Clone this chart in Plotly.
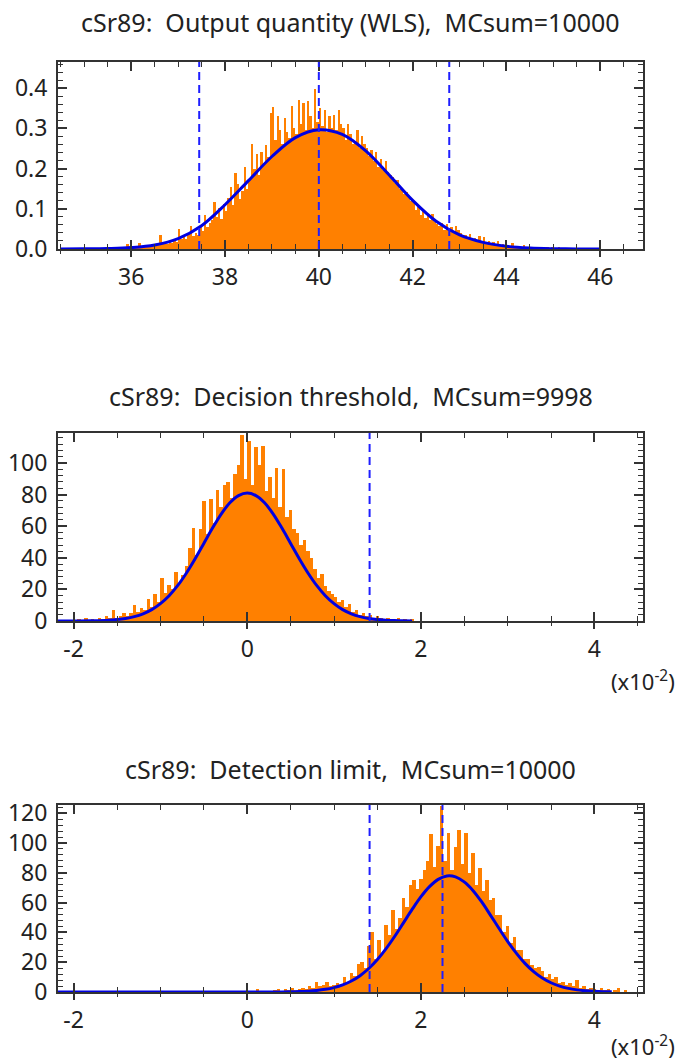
import numpy as np
import plotly.graph_objects as go

# ---------------- data ----------------
titles = ["cSr89:  Output quantity (WLS),  MCsum=10000",
          "cSr89:  Decision threshold,  MCsum=9998",
          "cSr89:  Detection limit,  MCsum=10000"]

# Panel 1: output quantity histogram (density)
p1_bin_start = 35.5
p1_bin_width = 0.05
p1_values = [
    0.002, 0.000, 0.003, 0.004, 0.002, 0.005, 0.003, 0.006, 0.012, 0.004,
    0.005, 0.008, 0.006, 0.016, 0.007, 0.009, 0.006, 0.011, 0.008, 0.013,
    0.012, 0.010, 0.036, 0.014, 0.017, 0.012, 0.020, 0.015, 0.022, 0.018,
    0.050, 0.026, 0.031, 0.024, 0.038, 0.056, 0.033, 0.041, 0.035, 0.058,
    0.046, 0.085, 0.055, 0.064, 0.072, 0.118, 0.080, 0.102, 0.075, 0.112,
    0.095, 0.128, 0.155, 0.110, 0.190, 0.162, 0.125, 0.145, 0.205, 0.150,
    0.175, 0.262, 0.198, 0.235, 0.185, 0.242, 0.215, 0.258, 0.230, 0.338,
    0.352, 0.270, 0.330, 0.295, 0.260, 0.325, 0.290, 0.275, 0.355, 0.300,
    0.285, 0.370, 0.310, 0.362, 0.295, 0.368, 0.330, 0.300, 0.398, 0.315,
    0.350, 0.305, 0.345, 0.290, 0.330, 0.300, 0.332, 0.295, 0.345, 0.310,
    0.300, 0.270, 0.312, 0.285, 0.262, 0.268, 0.295, 0.250, 0.280, 0.262,
    0.250, 0.232, 0.245, 0.218, 0.240, 0.205, 0.225, 0.196, 0.218, 0.192,
    0.185, 0.180, 0.165, 0.172, 0.148, 0.150, 0.136, 0.142, 0.128, 0.120,
    0.120, 0.098, 0.104, 0.085, 0.095, 0.078, 0.088, 0.072, 0.087, 0.066,
    0.062, 0.058, 0.064, 0.048, 0.062, 0.045, 0.055, 0.040, 0.056, 0.048,
    0.040, 0.030, 0.036, 0.025, 0.038, 0.022, 0.028, 0.018, 0.033, 0.020,
    0.030, 0.015, 0.019, 0.012, 0.018, 0.010, 0.020, 0.008, 0.012, 0.007,
    0.009, 0.006, 0.016, 0.005, 0.008, 0.004, 0.006, 0.010, 0.003, 0.005,
    0.004, 0.003, 0.006, 0.002, 0.004, 0.003, 0.002, 0.004, 0.001, 0.003,
    0.002, 0.001, 0.003, 0.000, 0.002, 0.001, 0.000, 0.002, 0.000, 0.001,
]
p1_curve_x = [34.5, 35.0, 35.5, 36.0, 36.5, 37.0, 37.5, 38.0, 38.5, 39.0, 39.5, 40.0,
              40.5, 41.0, 41.5, 42.0, 42.5, 43.0, 43.5, 44.0, 44.5, 45.0, 45.5, 46.0]
p1_curve_y = [0.0001, 0.0004, 0.0012, 0.0035, 0.010, 0.026, 0.058, 0.110, 0.170, 0.230,
              0.277, 0.2966, 0.285, 0.244, 0.184, 0.121, 0.069, 0.035, 0.0165, 0.0068,
              0.0025, 0.0008, 0.0002, 0.0]
p1_vlines = [37.45, 40.0, 42.78]
p1_xticks = [36, 38, 40, 42, 44, 46]
p1_xlabels = ["36", "38", "40", "42", "44", "46"]

# Panel 2: decision threshold histogram (counts), x in units of 1e-2
p2_bin_start = -2.0
p2_bin_width = 0.04
p2_values = [
    0, 1, 0, 2, 0, 1, 0, 2, 1, 3,
    2, 7, 2, 3, 5, 3, 5, 10, 6, 8,
    7, 14, 9, 17, 12, 27, 18, 23, 20, 31,
    24, 29, 35, 46, 59, 42, 58, 76, 55, 77,
    62, 83, 72, 86, 88, 78, 93, 99, 118, 90,
    114, 86, 110, 99, 111, 82, 91, 78, 97, 72,
    96, 66, 70, 58, 56, 48, 51, 44, 40, 33,
    27, 30, 22, 19, 17, 15, 12, 13, 9, 11,
    6, 7, 4, 5, 3, 4, 2, 3, 2, 1,
    2, 1, 0, 2, 0, 1, 0, 1, 0, 0,
]
p2_curve_x = [-2.2, -2.0, -1.8, -1.6, -1.4, -1.3, -1.2, -1.1, -1.0, -0.9, -0.8, -0.7,
              -0.6, -0.5, -0.4, -0.3, -0.2, -0.1, 0.0, 0.1, 0.2, 0.3, 0.4, 0.5, 0.6,
              0.7, 0.8, 0.9, 1.0, 1.1, 1.2, 1.3, 1.4, 1.5, 1.6, 1.7, 1.8, 1.9]
p2_curve_y = [0.0, 0.03, 0.12, 0.48, 1.61, 2.76, 4.55, 7.2, 11.0, 16.0, 22.5, 30.4,
              39.4, 49.1, 58.8, 67.7, 74.8, 79.4, 81.0, 79.4, 74.8, 67.7, 58.8, 49.1, 39.4,
              30.4, 22.5, 16.0, 11.0, 7.2, 4.55, 2.76, 1.61, 0.90, 0.48, 0.25, 0.12, 0.06]
p2_vlines = [1.41]
p2_xticks = [-2, 0, 2, 4]
p2_xlabels = ["-2", "0", "2", "4"]

# Panel 3: detection limit histogram (counts), x in units of 1e-2
p3_bin_start = 0.10
p3_bin_width = 0.04
p3_values = [
    2, 0, 0, 0, 0, 1, 2, 0, 2, 1,
    3, 1, 2, 3, 2, 4, 3, 7, 4, 5,
    7, 4, 5, 6, 4, 10, 7, 13, 11, 19,
    20, 16, 31, 40, 22, 35, 26, 45, 38, 55,
    42, 50, 63, 57, 72, 75, 69, 76, 82, 88,
    106, 84, 98, 125, 88, 107, 82, 97, 109, 86,
    107, 80, 93, 72, 83, 68, 75, 62, 63, 52,
    52, 40, 44, 33, 37, 28, 28, 22, 22, 18,
    16, 17, 14, 10, 12, 9, 10, 6, 7, 5,
    6, 4, 8, 3, 4, 2, 3, 2, 1, 3,
    1, 2, 0, 1, 3, 0, 1, 0,
]
p3_curve_x = [-2.18, 0.0, 0.4, 0.5, 0.6, 0.7, 0.8, 0.9, 1.0, 1.1, 1.2, 1.3, 1.4, 1.5,
              1.6, 1.7, 1.8, 1.9, 2.0, 2.1, 2.2, 2.3, 2.4, 2.5, 2.6, 2.7, 2.8, 2.9,
              3.0, 3.1, 3.2, 3.3, 3.4, 3.5, 3.6, 3.7, 3.8, 3.9, 4.0, 4.1, 4.2]
p3_curve_y = [0.0, 0.0, 0.07, 0.15, 0.31, 0.57, 1.03, 1.78, 2.96, 4.75, 7.36, 10.96,
              15.76, 21.8, 29.1, 37.4, 46.4, 55.4, 63.8, 70.7, 75.6, 77.9, 77.3, 73.9,
              68.2, 60.6, 51.8, 42.8, 34.0, 26.1, 19.2, 13.7, 9.39, 6.21, 3.96, 2.43,
              1.43, 0.82, 0.45, 0.24, 0.12]
p3_vlines = [1.41, 2.25]
p3_xticks = [-2, 0, 2, 4]
p3_xlabels = ["-2", "0", "2", "4"]

x_ranges = [[34.44, 46.91], [-2.18, 4.56], [-2.18, 4.56]]
y_ranges = [[0, 0.465], [0, 119.0], [0, 125.5]]
x_minor = [0.5, 0.5, 0.5]
y_major = [0.1, 20, 20]
y_minor = [0.02, 4, 4]
y_tickformat = [".1f", "d", "d"]
scale_label = [None, "(x10<sup>-2</sup>)", "(x10<sup>-2</sup>)"]

# ---------------- styling / layout ----------------
W, H = 678, 1064
ORANGE = "rgb(255,128,0)"
BLUE = "rgb(0,0,225)"
DASH_BLUE = "rgb(30,30,255)"
AX = "#333333"
TXT = "#222222"
FONT = "Noto Sans"
L, R = 58, 643

# pixel boxes for each panel: (top, bottom)
boxes = [(62, 249), (433, 621), (805, 992)]
title_y = [22, 396, 769]
scale_y = [None, 680, 1045]

panels = [
    (p1_bin_start, p1_bin_width, p1_values, p1_curve_x, p1_curve_y, p1_vlines,
     p1_xticks, p1_xlabels),
    (p2_bin_start, p2_bin_width, p2_values, p2_curve_x, p2_curve_y, p2_vlines,
     p2_xticks, p2_xlabels),
    (p3_bin_start, p3_bin_width, p3_values, p3_curve_x, p3_curve_y, p3_vlines,
     p3_xticks, p3_xlabels),
]

fig = go.Figure()
shapes = []
annotations = []
layout_axes = {}

for i, (bstart, bw, vals, cx, cy, vl, xt, xl) in enumerate(panels):
    n = i + 1
    xa = "x" if n == 1 else f"x{n}"
    ya = "y" if n == 1 else f"y{n}"
    xo = f"x{n + 3}"
    centers = bstart + bw * (np.arange(len(vals)) + 0.5)
    fig.add_trace(go.Bar(x=centers, y=vals, width=bw, xaxis=xa, yaxis=ya,
                         marker=dict(color=ORANGE, line=dict(width=0)),
                         showlegend=False, hoverinfo="skip"))
    fig.add_trace(go.Scatter(x=cx, y=cy, mode="lines", xaxis=xa, yaxis=ya,
                             line=dict(color=BLUE, width=3, shape="spline"),
                             showlegend=False, hoverinfo="skip"))
    # empty trace so the overlay tick axis gets drawn
    fig.add_trace(go.Scatter(x=[None], y=[None], mode="lines", xaxis=xo, yaxis=ya,
                             showlegend=False, hoverinfo="skip"))
    for v in vl:
        shapes.append(dict(type="line", xref=xa, yref=f"{ya} domain", x0=v, x1=v, y0=0, y1=1,
                           line=dict(color=DASH_BLUE, width=2, dash="8px,5px")))

    top, bot = boxes[i]
    dom = [1 - bot / H, 1 - top / H]
    suffix = "" if n == 1 else str(n)
    layout_axes[f"xaxis{suffix}"] = dict(
        domain=[0, 1], anchor=ya, range=x_ranges[i],
        tickmode="array", tickvals=xt, ticktext=xl,
        automargin=False,
        ticks="inside", ticklen=9, tickwidth=1.5, tickcolor=AX, mirror="ticks",
        showline=True, linewidth=2, linecolor=AX, showgrid=False, zeroline=False,
        minor=dict(dtick=x_minor[i], tick0=0, ticks="inside", ticklen=5, tickwidth=1.2,
                   tickcolor=AX, showgrid=False),
        tickfont=dict(family=FONT, size=23, color=TXT), ticklabelstandoff=6)
    layout_axes[f"xaxis{n + 3}"] = dict(
        overlaying=xa, anchor=ya, side="bottom", range=x_ranges[i],
        tickmode="array", tickvals=xt,
        ticks="outside", ticklen=7, tickwidth=1.5, tickcolor=AX,
        automargin=False,
        showline=False, showgrid=False, zeroline=False, showticklabels=False,
        minor=dict(dtick=x_minor[i], tick0=0, ticks="outside", ticklen=4, tickwidth=1.2,
                   tickcolor=AX, showgrid=False))
    layout_axes[f"yaxis{suffix}"] = dict(
        domain=dom, anchor=xa, range=y_ranges[i], tick0=0, dtick=y_major[i],
        tickformat=y_tickformat[i], automargin=False,
        ticks="inside", ticklen=9, tickwidth=1.5, tickcolor=AX, mirror="ticks",
        showline=True, linewidth=2, linecolor=AX, showgrid=False, zeroline=False,
        minor=dict(dtick=y_minor[i], tick0=0, ticks="inside", ticklen=5, tickwidth=1.2,
                   tickcolor=AX, showgrid=False),
        tickfont=dict(family=FONT, size=23, color=TXT), ticklabelstandoff=4)

    annotations.append(dict(text=titles[i], xref="paper", yref="paper", x=0.5,
                            y=1 - title_y[i] / H, xanchor="center", yanchor="middle",
                            showarrow=False, font=dict(family=FONT, size=25, color=TXT)))
    if scale_label[i]:
        annotations.append(dict(text=scale_label[i], xref="paper", yref="paper",
                                x=(677 - L) / (R - L), y=1 - scale_y[i] / H,
                                xanchor="right", yanchor="middle", showarrow=False,
                                font=dict(family=FONT, size=22, color=TXT)))

fig.update_layout(
    width=W, height=H, margin=dict(l=L, r=W - R, t=0, b=0, autoexpand=False),
    paper_bgcolor="white", plot_bgcolor="white", bargap=0,
    shapes=shapes, annotations=annotations, **layout_axes)

# remove the browser's default page margin so the figure sits at the window's corner
fig.write_html("out.html", config={"displayModeBar": False},
               post_script="document.body.style.margin='0px';"
                           "document.body.style.overflow='hidden';")
